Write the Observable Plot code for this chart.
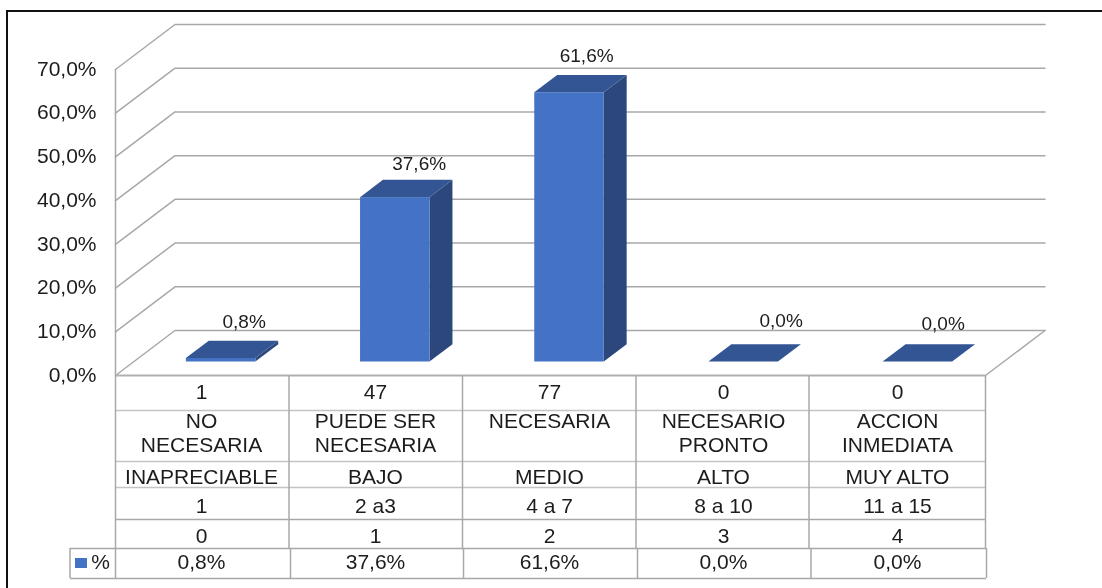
<!DOCTYPE html>
<html>
<head>
<meta charset="utf-8">
<script src="https://cdn.jsdelivr.net/npm/d3@7"></script>
<script src="https://cdn.jsdelivr.net/npm/@observablehq/plot@0.6"></script>
<style>
  html, body { margin: 0; padding: 0; background: #fff; overflow: hidden; }
  #frame { position: absolute; left: 6px; top: 10px; right: 0; bottom: 0; border-left: 2px solid #111; border-top: 2px solid #111; }
  #chart { position: absolute; left: 0; top: 0; filter: blur(0.35px); }
  #chart svg { display: block; }
</style>
</head>
<body>
<div id="frame"></div>
<div id="chart"></div>
<script>
// ---- chart values ----
const percent = [0.8, 37.6, 61.6, 0, 0];
const counts = ["1", "47", "77", "0", "0"];
const needs = ["NO\nNECESARIA", "PUEDE SER\nNECESARIA", "NECESARIA", "NECESARIO\nPRONTO", "ACCION\nINMEDIATA"];
const levels = ["INAPRECIABLE", "BAJO", "MEDIO", "ALTO", "MUY ALTO"];
const ranges = ["1", "2 a3", "4 a 7", "8 a 10", "11 a 15"];
const codes = ["0", "1", "2", "3", "4"];
const yTicks = [0, 10, 20, 30, 40, 50, 60, 70];
const seriesName = "%";

// ---- layout constants ----
const W = 1102, H = 588;
const left = 115, right = 985, top0 = 69, base = 375;
const unitX = (right - left) / 5, unitY = (base - top0) / 70;
const depthX = 59.5 / unitX, depthY = 45 / unitY;     // oblique depth of the floor, in scale units
const barPitch = 174.2 / unitX, barLead = 53 / unitX, barWidth = 69.5 / unitX;
const barStart = 0.3, barEnd = 0.685;
const px = p => (p - left) / unitX;                   // table/legend layout helpers
const py = p => (base - p) / unitY;
const fmt = v => v.toFixed(1).replace(".", ",") + "%";
const ink = "#1c1c1c", gridC = "#a8a8a8", lightC = "#c4c4c4";
const front = "#4472c4", topC = "#335593", sideC = "#2b477c";
const tableEdges = [115, 288.5, 462, 635.5, 808.5, 985].map(px);
const keyEdges = [290, 463, 637, 810.5, 986].map(px);
const textFont = 21;

// ---- derived geometry in scale units ----
const cats = d3.range(percent.length);
const prj = (x, v, d) => ({x: x + d * depthX, y: v + d * depthY});
const barL = i => i * barPitch + barLead, barR = i => barL(i) + barWidth;
const frontRows = cats.map(i => {
  const a = prj(barL(i), 0, barStart), b = prj(barR(i), percent[i], barStart);
  return {x1: a.x, x2: b.x, y1: a.y, y2: b.y};
});
const sideRows = cats.flatMap(i => [barStart, barEnd].map(d => {
  const a = prj(barR(i), 0, d), b = prj(barR(i), percent[i], d);
  return {i, x1: a.x, y1: a.y, x2: b.x, y2: b.y};
}));
const topRows = cats.flatMap(i => [barStart, barEnd].map(d => {
  const a = prj(barL(i), percent[i], d), b = prj(barR(i), percent[i], d);
  return {i, x1: a.x, y1: a.y, x2: b.x, y2: b.y};
}));
const gridRows = yTicks.flatMap(v => [
  {v, ...prj(0, v, 0)}, {v, ...prj(0, v, 1)}, {v, ...prj(5, v, 1)}
]);
const floorEdge = [prj(5, 0, 0), prj(5, 0, 1)];

// data-label nudges (px)
const labelDx = [0, 1, -5.5, 15, 3];
const labelDy = [-18.5, -16, -19, -23, -20.5];
const labels = cats.map(i => {
  const p = prj(i + 0.5, percent[i], 0.7);
  return {x: p.x + labelDx[i] / unitX, y: p.y - labelDy[i] / unitY, t: fmt(percent[i])};
});

// table rows
const colX = i => i + 0.5 - 1 / unitX;
const rowText = (arr, yPx, extra = {}) => Plot.text(arr, {
  x: (d, i) => colX(i), y: () => py(yPx), text: d => d,
  fontSize: textFont, fill: ink, ...extra
});
const hLine = (yPx, stroke, x1 = 0, x2 = 5, sw = 1.5) =>
  Plot.ruleY([py(yPx)], {x1, x2, stroke, strokeWidth: sw});
const vLines = (xs, y1, y2) =>
  Plot.ruleX(xs, {y1: py(y1), y2: py(y2), stroke: gridC, strokeWidth: 1.5});

const plot = Plot.plot({
  width: W, height: H,
  marginLeft: left, marginRight: W - right, marginTop: top0, marginBottom: H - base,
  x: {domain: [0, 5], axis: null},
  y: {domain: [0, 70], axis: null},
  style: {fontFamily: "'Liberation Sans', Arial, sans-serif", background: "transparent", overflow: "visible"},
  marks: [
    // wall and floor
    Plot.line(gridRows, {x: "x", y: "y", z: "v", stroke: gridC, strokeWidth: 1.5}),
    Plot.ruleX([0], {y1: 0, y2: 70, stroke: gridC, strokeWidth: 1.5}),
    Plot.line(floorEdge, {x: "x", y: "y", stroke: gridC, strokeWidth: 1.5}),
    // bars
    Plot.area(sideRows, {x1: "x1", y1: "y1", x2: "x2", y2: "y2", z: "i", fill: sideC}),
    Plot.area(topRows, {x1: "x1", y1: "y1", x2: "x2", y2: "y2", z: "i", fill: topC}),
    Plot.rect(frontRows, {x1: "x1", x2: "x2", y1: "y1", y2: "y2", fill: front}),
    // data labels
    Plot.text(labels, {x: "x", y: "y", text: "t", fontSize: 19, fill: ink}),
    // y axis
    Plot.axisY(yTicks, {
      anchor: "left", tickSize: 0, tickPadding: 19, tickFormat: fmt,
      fontSize: 21, fill: ink, label: null, dy: -0.5
    }),
    // data table grid
    hLine(375, "#b0b0b0", 0, 5, 2),
    hLine(410, lightC),
    hLine(461, lightC),
    hLine(487, lightC),
    hLine(519, gridC),
    hLine(548, gridC, px(70), px(986)),
    hLine(578, gridC, px(70), px(986)),
    vLines(tableEdges, 375, 548),
    vLines(keyEdges, 548, 578),
    vLines([0], 548, 578),
    vLines([px(69.5)], 548, 578),
    // data table text
    rowText(counts, 391.5),
    rowText(needs, 410, {lineAnchor: "top", lineHeight: 24 / textFont}),
    rowText(levels, 476.5),
    rowText(ranges, 505.5),
    rowText(codes, 535.5),
    rowText(percent.map(fmt), 561.5),
    // legend key
    Plot.rect([0], {x1: () => px(75), x2: () => px(87), y1: () => py(558), y2: () => py(568), fill: front}),
    Plot.text([seriesName], {x: () => px(100), y: () => py(562), text: d => d, fontSize: textFont, fill: ink})
  ]
});
document.getElementById("chart").appendChild(plot);
</script>
</body>
</html>
